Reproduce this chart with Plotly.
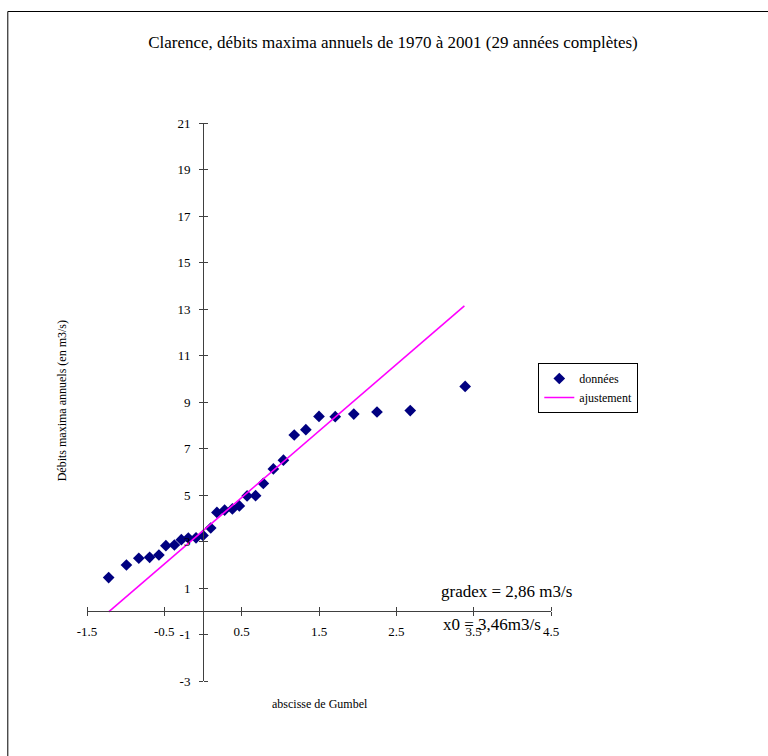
import plotly.graph_objects as go

# Data
gumbel_x = [-1.22, -0.99, -0.83, -0.69, -0.57, -0.48, -0.37, -0.28, -0.19, -0.09,
            0.00, 0.10, 0.18, 0.28, 0.38, 0.47, 0.57, 0.68, 0.78, 0.91,
            1.04, 1.18, 1.33, 1.50, 1.71, 1.95, 2.25, 2.68, 3.39]
debits = [1.45, 1.99, 2.28, 2.32, 2.42, 2.82, 2.85, 3.08, 3.15, 3.16,
          3.26, 3.58, 4.25, 4.35, 4.40, 4.53, 4.96, 4.97, 5.50, 6.12,
          6.50, 7.58, 7.81, 8.38, 8.37, 8.48, 8.57, 8.63, 9.67]
fit_x = [-1.22, 3.38]
fit_y = [-0.03, 13.13]

x_ticks = [-1.5, -0.5, 0.5, 1.5, 2.5, 3.5, 4.5]
x_tick_text = ["-1.5", "-0.5", "0.5", "1.5", "2.5", "3.5", "4.5"]
y_ticks = [-3, -1, 1, 3, 5, 7, 9, 11, 13, 15, 17, 19, 21]
y_tick_text = ["-3", "-1", "1", "3", "5", "7", "9", "11", "13", "15", "17", "19", "21"]
x_range = [-1.5, 4.5]
y_range = [-3, 21]

title = "Clarence, débits maxima annuels de 1970 à 2001 (29 années complètes)"
x_title = "abscisse de Gumbel"
y_title = "Débits maxima annuels (en m3/s)"
note1 = "gradex = 2,86 m3/s"
note2 = "x0 = 3,46m3/s"

FONT = "Liberation Serif"
W, H = 768, 756
L, R, T, B = 86.7, 550.7, 123, 681
pw, ph = R - L, B - T

def px_x(p):
    return (p - L) / pw

def px_y(p):
    return (B - p) / ph

x_pos = (0 - y_range[0]) / (y_range[1] - y_range[0])
y_pos = (0 - x_range[0]) / (x_range[1] - x_range[0])

fig = go.Figure()
fig.add_trace(go.Scatter(
    x=gumbel_x, y=debits, mode="markers", name="données",
    marker=dict(symbol="diamond", size=9, color="#000080"),
))
fig.add_trace(go.Scatter(
    x=fit_x, y=fit_y, mode="lines", name="ajustement",
    line=dict(color="#FF00FF", width=1.6),
))
# invisible trace to carry the overlay axes for crossing ticks
fig.add_trace(go.Scatter(x=[None], y=[None], xaxis="x2", yaxis="y2",
                         showlegend=False, hoverinfo="skip"))

axis_common = dict(showgrid=False, zeroline=False, showline=True,
                   linecolor="#404040", linewidth=1, tickcolor="#404040",
                   ticklen=4, tickwidth=1,
                   tickfont=dict(family=FONT, size=13, color="#000000"))

fig.update_layout(
    width=W, height=H,
    margin=dict(l=L, r=W - R, t=T, b=H - B, pad=0),
    paper_bgcolor="white", plot_bgcolor="white",
    font=dict(family=FONT, color="#000000"),
    xaxis=dict(range=x_range, tickvals=x_ticks, ticktext=x_tick_text, ticks="outside",
               anchor="free", position=x_pos, ticklabelstandoff=4, **axis_common),
    yaxis=dict(range=y_range, tickvals=y_ticks, ticktext=y_tick_text, ticks="outside",
               anchor="free", position=y_pos, ticklabelstandoff=6, **axis_common),
    xaxis2=dict(range=x_range, tickvals=x_ticks, ticks="outside", side="top",
                overlaying="x", anchor="free", position=x_pos,
                showticklabels=False, showgrid=False, zeroline=False,
                showline=False, tickcolor="#404040", ticklen=4, tickwidth=1),
    yaxis2=dict(range=y_range, tickvals=y_ticks, ticks="outside", side="right",
                overlaying="y", anchor="free", position=y_pos,
                showticklabels=False, showgrid=False, zeroline=False,
                showline=False, tickcolor="#404040", ticklen=4, tickwidth=1),
    title=dict(text=title, x=393 / W, xref="container", xanchor="center",
               y=1 - 42 / H, yref="container", yanchor="middle",
               font=dict(family=FONT, size=17, color="#000000")),
    legend=dict(x=px_x(538), y=px_y(363), xanchor="left", yanchor="top",
                bordercolor="#000000", borderwidth=1, bgcolor="white",
                font=dict(family=FONT, size=12, color="#000000"),
                itemwidth=30, tracegroupgap=0),
    showlegend=True,
)

fig.add_annotation(text=x_title, x=px_x(320), y=px_y(704), xref="paper", yref="paper",
                   showarrow=False, font=dict(family=FONT, size=12),
                   xanchor="center", yanchor="middle")
fig.add_annotation(text=y_title, x=px_x(62), y=px_y(401), xref="paper", yref="paper",
                   showarrow=False, textangle=-90, font=dict(family=FONT, size=12),
                   xanchor="center", yanchor="middle")
fig.add_annotation(text=note1, x=px_x(439), y=px_y(591), xref="paper", yref="paper",
                   showarrow=False, font=dict(family=FONT, size=17),
                   xanchor="left", yanchor="middle")
fig.add_annotation(text=note2, x=px_x(441), y=px_y(624), xref="paper", yref="paper",
                   showarrow=False, font=dict(family=FONT, size=17),
                   xanchor="left", yanchor="middle")

# outer chart border (extends past the right and bottom edges of the window)
fig.add_shape(type="rect", xref="paper", yref="paper",
              x0=px_x(7.5), y0=px_y(800), x1=px_x(800), y1=px_y(11.5),
              line=dict(color="#000000", width=1), fillcolor="rgba(0,0,0,0)",
              layer="below")

fig.write_html("out.html")
